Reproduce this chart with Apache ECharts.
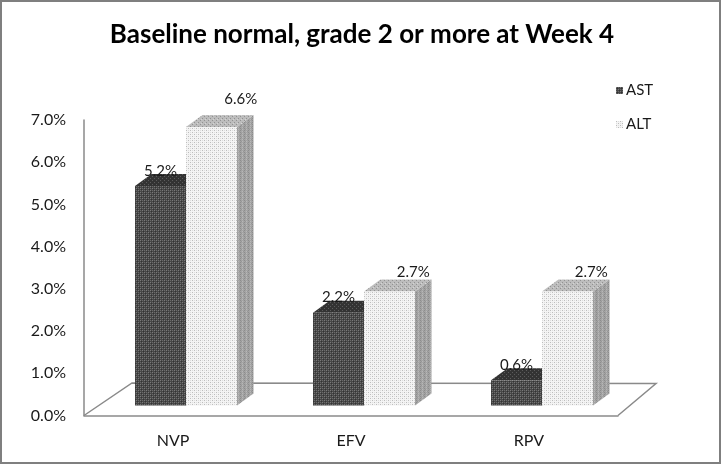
<!DOCTYPE html>
<html>
<head>
<meta charset="utf-8">
<script src="https://cdn.jsdelivr.net/npm/echarts@6/dist/echarts.min.js"></script>
<style>
html,body{margin:0;padding:0;background:#fff;}
#chart{width:724px;height:467px;}
</style>
</head>
<body>
<div id="chart"></div>
<script>
// ---- data ----
const titleText = 'Baseline normal, grade 2 or more at Week 4';
const categories = ['NVP', 'EFV', 'RPV'];
const seriesNames = ['AST', 'ALT'];
const astValues = [5.2, 2.2, 0.6];
const altValues = [6.6, 2.7, 2.7];
const yMin = 0, yMax = 7, yInterval = 1;

// ---- patterns ----
function makePattern(size, base, dots) {
  const c = document.createElement('canvas');
  c.width = size; c.height = size;
  const g = c.getContext('2d');
  g.fillStyle = base; g.fillRect(0, 0, size, size);
  dots.forEach(d => { g.fillStyle = d[2]; g.fillRect(d[0], d[1], 1, 1); });
  return { image: c, repeat: 'repeat' };
}
const astFront = makePattern(4, '#474747', [[0,0,'#7a7a7a'],[2,0,'#6a6a6a'],[0,2,'#6a6a6a'],[2,2,'#7a7a7a'],[1,1,'#333'],[3,3,'#333']]);
const astTop = makePattern(4, '#333333', [[0,0,'#5c5c5c'],[2,2,'#5c5c5c']]);
const astSide = makePattern(4, '#2e2e2e', [[0,0,'#555'],[2,2,'#555']]);
const altFront = makePattern(4, '#f4f4f4', [[0,0,'#bdbdbd'],[2,2,'#bdbdbd'],[2,0,'#dedede'],[0,2,'#dedede']]);
const altTop = makePattern(4, '#bdbdbd', [[0,0,'#929292'],[2,2,'#929292'],[1,3,'#d4d4d4']]);
const altSide = makePattern(4, '#a4a4a4', [[0,0,'#8c8c8c'],[0,2,'#8c8c8c'],[2,1,'#b8b8b8'],[2,3,'#b8b8b8'],[1,1,'#969696'],[3,3,'#969696']]);
const faces = [
  { front: astFront, top: astTop, side: astSide },
  { front: altFront, top: altTop, side: altSide }
];

const FONT = 'Lato, "Open Sans", sans-serif';
const FRONT_OFF = [13, -10];   // bar front plane offset from axis plane
const DEPTH = [16.5, -12];     // bar depth vector
const BAR_RATIO = 0.2865;      // bar width / category width

function barRender(params, api) {
  const si = params.seriesIndex - 1;
  const ci = api.value(0), v = api.value(1);
  const base = api.coord([ci, 0]);
  const topP = api.coord([ci, v]);
  const bw = api.size([1, 0])[0] * BAR_RATIO;
  const x0 = base[0] + FRONT_OFF[0] + (si === 0 ? -bw : 0);
  const x1 = x0 + bw;
  const yb = base[1] + FRONT_OFF[1];
  const yt = topP[1] + FRONT_OFF[1];
  const f = faces[si];
  const dx = DEPTH[0], dy = DEPTH[1];
  let lx, ly;
  if (si === 0) { lx = (x0 + x1) / 2; ly = yt - 15; }
  else { lx = (x0 + x1) / 2 + 20 + 1.4 * v; ly = yt - (13.5 + 2.2 * v); }
  return {
    type: 'group',
    children: [
      { type: 'polygon', shape: { points: [[x1, yb], [x1 + dx, yb + dy], [x1 + dx, yt + dy], [x1, yt]] }, style: { fill: f.side } },
      { type: 'polygon', shape: { points: [[x0, yt], [x1, yt], [x1 + dx, yt + dy], [x0 + dx, yt + dy]] }, style: { fill: f.top } },
      { type: 'rect', shape: { x: x0, y: yt, width: bw, height: yb - yt }, style: { fill: f.front } },
      { type: 'text', x: lx, y: ly, style: { text: v.toFixed(1) + '%', fill: '#1a1a1a', font: '15px ' + FONT, align: 'center', verticalAlign: 'middle' } }
    ]
  };
}

function floorRender(params, api) {
  const cs = params.coordSys;
  const x = cs.x, y = cs.y + cs.height, w = cs.width;
  return {
    type: 'polyline',
    shape: { points: [[x, y], [x + 48, y - 32.5], [x + w + 38, y - 32], [x + w, y]] },
    style: { stroke: '#8a8a8a', lineWidth: 1.5, fill: null }
  };
}

const chart = echarts.init(document.getElementById('chart'), null, { renderer: 'canvas' });
chart.setOption({
  animation: false,
  backgroundColor: '#fff',
  title: {
    text: titleText, left: 'center', top: 17,
    textStyle: { fontFamily: FONT, fontWeight: 'bold', fontSize: 26, color: '#000' }
  },
  legend: {
    data: seriesNames, orient: 'vertical', left: 611, top: 78,
    itemWidth: 7, itemHeight: 7, itemGap: 19, selectedMode: false, icon: 'rect',
    textStyle: { fontFamily: FONT, fontSize: 15, color: '#1a1a1a', padding: [0, 0, 0, -2] }
  },
  grid: { left: 84, right: 106, top: 120, bottom: 51.5 },
  xAxis: {
    type: 'category', data: categories,
    axisLine: { show: true, lineStyle: { color: '#8a8a8a', width: 1.5 } },
    axisTick: { show: false },
    axisLabel: { margin: 17, fontFamily: FONT, fontSize: 16, color: '#1a1a1a' },
    splitLine: { show: false }
  },
  yAxis: {
    type: 'value', min: yMin, max: yMax, interval: yInterval,
    axisLine: { show: true, lineStyle: { color: '#8a8a8a', width: 1.5 } },
    axisTick: { show: false },
    splitLine: { show: false },
    axisLabel: { margin: 18, fontFamily: FONT, fontSize: 16, color: '#1a1a1a', formatter: v => v.toFixed(1) + '%' }
  },
  graphic: [{
    type: 'rect', shape: { x: 1, y: 1, width: 719, height: 462 },
    style: { fill: null, stroke: '#7f7f7f', lineWidth: 2 }, silent: true, z: 100
  }],
  series: [
    { type: 'custom', renderItem: floorRender, data: [[0, 0]], z: 1, silent: true, tooltip: { show: false } },
    { name: seriesNames[0], type: 'custom', renderItem: barRender, itemStyle: { color: astFront },
      data: astValues.map((v, i) => [i, v]), z: 2, encode: { x: 0, y: 1 } },
    { name: seriesNames[1], type: 'custom', renderItem: barRender, itemStyle: { color: altFront },
      data: altValues.map((v, i) => [i, v]), z: 3, encode: { x: 0, y: 1 } }
  ]
});
</script>
</body>
</html>
